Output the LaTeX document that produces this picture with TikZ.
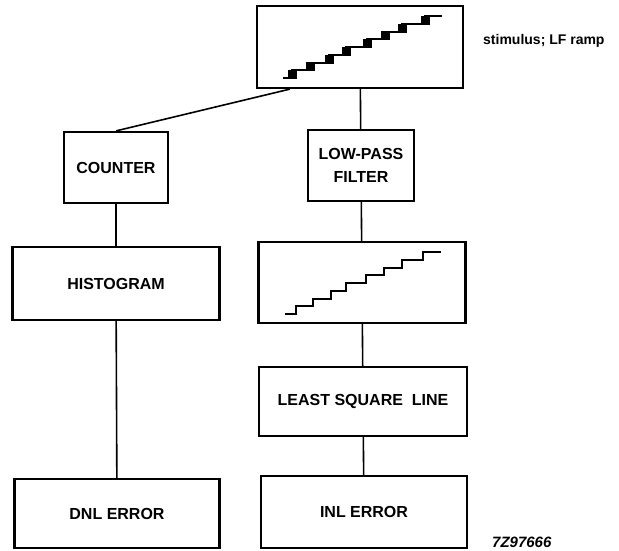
\documentclass[tikz,border=0pt]{standalone}
\usepackage{fontspec}
\setmainfont{Liberation Sans}
\usetikzlibrary{positioning}

\begin{document}
\begin{tikzpicture}[
  x=1pt, y=-1pt,
  box/.style={rectangle, draw, line width=2.2pt, align=center, inner sep=0pt,
    font=\fontsize{16}{23}\selectfont\bfseries},
  link/.style={line width=1.6pt},
  stair/.style={line width=2pt},
  label/.style={font=\fontsize{14}{16}\selectfont\bfseries, anchor=west, inner sep=0pt},
]
\useasboundingbox (0,0) rectangle (619,550);

% === ramp test: left column ===
\node[box, minimum width=104pt, minimum height=71pt] (counter) at (116,167.5) {COUNTER};
\node[box, minimum width=207pt, minimum height=73pt] (hist) at (116,283.5) {HISTOGRAM};
\node[box, minimum width=205pt, minimum height=69pt] (dnl) at (117,513.5) {DNL ERROR};

% === right column ===
\node[box, minimum width=206pt, minimum height=82pt] (stim) at (360,47) {};
\node[box, minimum width=106pt, minimum height=71pt] (lpf) at (361,165.5) {LOW-PASS\\FILTER};
\node[box, minimum width=207pt, minimum height=81pt] (ramp) at (362,282.5) {};
\node[box, minimum width=208pt, minimum height=69pt] (lsq) at (363,401.5) {LEAST SQUARE\ \ LINE};
\node[box, minimum width=206pt, minimum height=72pt] (inl) at (364,512) {INL ERROR};

\node[label] (stimlbl) at (483,41) {stimulus; LF ramp};
\node[label, font=\fontsize{15}{17}\selectfont\bfseries\itshape] (code) at (492,542) {7Z97666};

% staircase with sample marks
\draw[stair] (283,78) foreach \x [count=\k] in {292,310,329,346,367,385,402,425} { -| (\x,{78-7.75*\k}) } -- (442,16);
\foreach \x [count=\k] in {292,310,329,346,367,385,402,425}
  \fill (\x-4,{78-7.75*(\k-1)+1}) rectangle ++(9,-9);

% filtered staircase
\draw[stair] (285,314) foreach \x [count=\k] in {296,313,331,346,366,384,402,423} { -| (\x,{314-7.75*\k}) } -- (441,252);

\draw[link] (stim.211) -- (counter.north);
\draw[link] (stim) -- (lpf);
\draw[link] (counter) -- (hist);
\draw[link] (hist) -- (dnl);
\draw[link] (lpf) -- (ramp);
\draw[link] (ramp) -- (lsq);
\draw[link] (lsq) -- (inl);
\end{tikzpicture}
\end{document}
